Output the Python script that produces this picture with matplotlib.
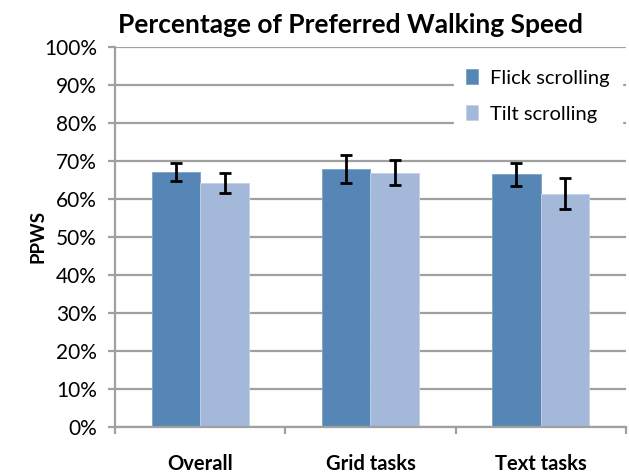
import matplotlib.pyplot as plt
import numpy as np
from matplotlib.ticker import FixedLocator, PercentFormatter

plt.rcParams['font.family'] = ['Lato', 'DejaVu Sans']

categories = ['Overall', 'Grid tasks', 'Text tasks']
flick = [67.1, 67.8, 66.4]
flick_err = [2.4, 3.7, 3.0]
tilt = [64.1, 66.8, 61.3]
tilt_err = [2.6, 3.3, 4.1]

fig = plt.figure(figsize=(6.29, 4.73), dpi=100)
ax = fig.add_axes([0.183, 0.098, 0.812, 0.803])

x = np.arange(len(categories))
w = 0.286
ekw = dict(ecolor='black', elinewidth=2, capsize=4.5, capthick=2)
ax.bar(x - w/2, flick, w, color='#5586B6', edgecolor='#7FA1C9', linewidth=0.6,
       yerr=flick_err, error_kw=ekw, label='Flick scrolling', zorder=2)
ax.bar(x + w/2, tilt, w, color='#A4B8D9', edgecolor='#C3D1E8', linewidth=0.6,
       yerr=tilt_err, error_kw=ekw, label='Tilt scrolling', zorder=2)

ax.set_xlim(-0.5, 2.5)
ax.set_ylim(0, 100)
ax.set_yticks(np.arange(0, 101, 10))
ax.yaxis.set_major_formatter(PercentFormatter(decimals=0))
ax.grid(axis='y', color='#A0A0A0', linewidth=1.6, zorder=0)
ax.set_axisbelow(True)

ax.set_xticks(x)
ax.set_xticklabels(categories, fontweight='bold', fontsize=14.5)
ax.tick_params(axis='x', which='major', length=0, pad=20)
ax.xaxis.set_minor_locator(FixedLocator([-0.5, 0.5, 1.5, 2.5]))
ax.tick_params(axis='x', which='minor', length=5, width=1.6, color='#A0A0A0', direction='out')
ax.tick_params(axis='y', length=5, width=1.6, color='#A0A0A0', labelsize=15, pad=8)

for s in ['top', 'right']:
    ax.spines[s].set_visible(False)
for s in ['left', 'bottom']:
    ax.spines[s].set_color('#A0A0A0')
    ax.spines[s].set_linewidth(1.6)

ax.set_ylabel('PPWS', fontweight='bold', fontsize=13.5, labelpad=-2)
fig.text(0.558, 0.947, 'Percentage of Preferred Walking Speed', fontweight='bold',
         fontsize=19, ha='center', va='center')

leg = ax.legend(loc='upper right', bbox_to_anchor=(1.012, 1.0), frameon=True, fontsize=14.5,
                handlelength=0.6, handleheight=0.8, handletextpad=0.6, labelspacing=0.9,
                borderpad=0.6, fancybox=False)
leg.get_frame().set_edgecolor('white')
leg.get_frame().set_facecolor('white')
leg.get_frame().set_alpha(1)

fig.savefig('out.png', dpi=100)
